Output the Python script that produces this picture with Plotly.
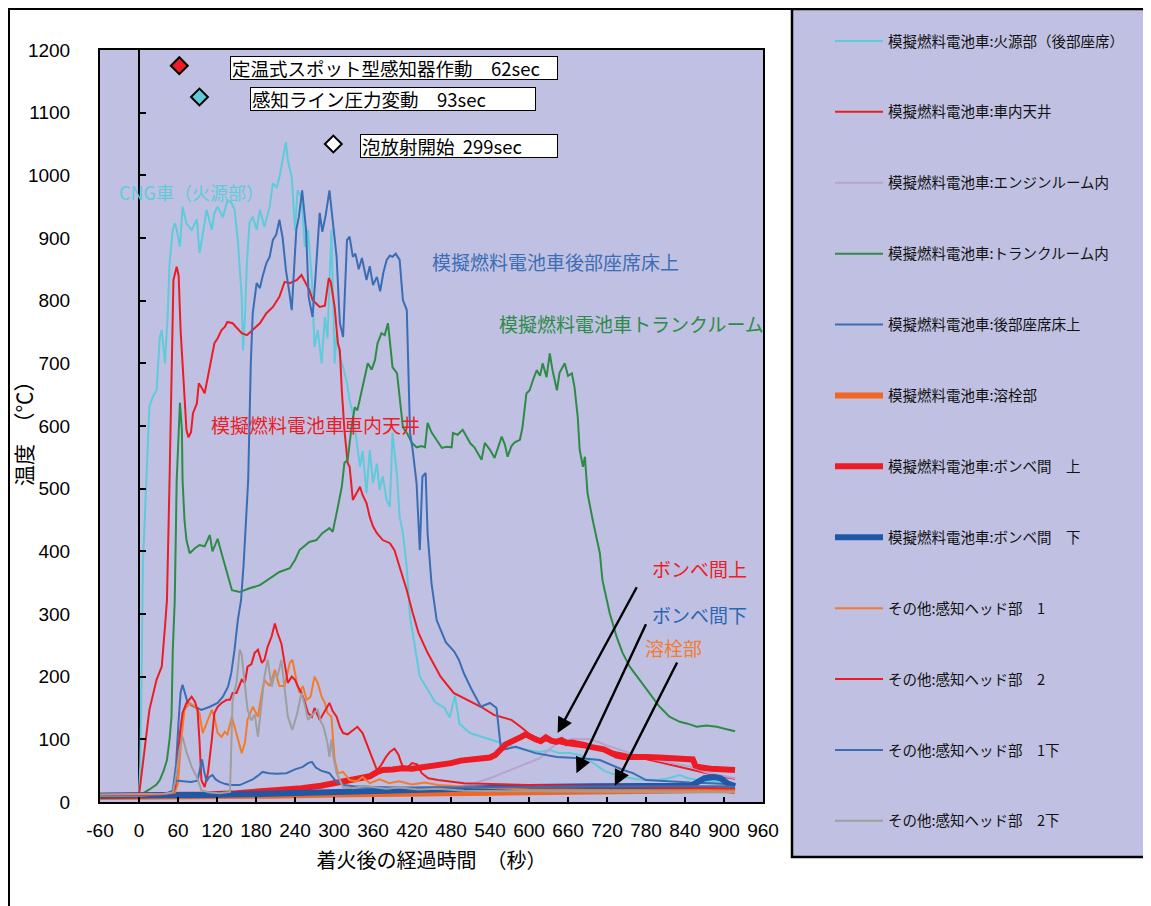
import plotly.graph_objects as go

# ---------------- data (time s, temperature degC) ----------------
FIRE = [(-60,12),(-40,12),(-20,13),(-5,13),(0,15),(2,60),(4,200),(6,380),(8,430),(11,514),(16,631),(21,646),(27,657),
        (32,742),(35,753),(40,700),(44,774),(47,860),(52,913),(55,924),(58,913),(63,886),(67,950),(73,923),(81,913),
        (89,930),(93,876),(98,905),(104,945),(112,913),(116,940),(121,950),(129,933),(136,960),(143,955),(147,945),
        (152,897),(158,806),(160,721),(163,774),(166,860),(170,924),(175,934),(181,913),(186,945),(193,918),(201,950),
        (206,987),(212,981),(216,997),(221,1024),(226,1053),(229,1024),(235,997),(240,913),(244,976),(250,965),
        (255,886),(260,913),(266,833),(270,726),(275,753),(281,700),(286,774),(290,740),(296,913),(301,700),(304,748),
        (309,710),(314,694),(320,668),(324,641),(329,620),(335,578),(340,535),(344,560),(350,493),(355,562),(360,509),
        (366,540),(370,498),(375,520),(381,482),(386,471),(390,589),(397,520),(401,455),(406,429),(412,375),(417,295),
        (424,250),(432,200),(444,180),(455,160),(470,150),(478,135),(486,170),(493,125),(509,110),(524,105),(540,100),
        (555,95),(570,90),(586,85),(601,82),(617,80),(632,83),(647,78),(662,78),(678,75),(695,65),(709,55),(715,50),
        (725,46),(745,40),(770,36),(800,35),(815,38),(832,43),(845,38),(870,33),(900,32),(917,30)]

CEILING = [(-60,12),(-30,12),(0,13),(1,19),(9,83),(16,147),(27,195),(35,216),(40,280),(43,322),(47,514),(50,700),
           (53,833),(58,854),(61,840),(64,753),(67,700),(70,646),(73,594),(76,582),(80,590),(83,620),(89,636),(92,668),
           (96,662),(101,652),(106,680),(112,710),(116,732),(121,740),(127,753),(132,758),(136,766),(144,764),(152,755),
           (158,748),(166,745),(175,753),(186,764),(196,780),(206,790),(216,806),(224,830),(232,828),(243,833),(250,841),
           (256,830),(262,817),(267,801),(278,790),(286,792),(292,836),(295,830),(301,790),(306,732),(309,721),(312,657),
           (316,594),(321,541),(324,535),(329,482),(335,493),(340,503),(344,490),(350,477),(355,455),(360,440),(366,429),
           (375,418),(386,413),(393,402),(401,375),(412,338),(421,302),(430,270),(444,238),(464,200),(484,174),(506,163),
           (526,152),(546,139),(573,131),(587,120),(601,108),(617,100),(640,95),(663,90),(693,86),(720,82),(745,77),
           (770,71),(800,64),(830,57),(860,50),(890,42),(917,37)]

ENGINE = [(-60,12),(0,12),(100,13),(200,15),(300,17),(400,19),(450,21),(480,23),(510,28),(540,38),(570,50),(600,62),
          (617,70),(632,85),(647,96),(668,101),(693,100),(709,95),(720,90),(750,80),(781,70),(821,62),(847,57),(873,47),
          (904,40),(917,38)]

TRUNK = [(-60,12),(0,12),(5,13),(16,20),(27,28),(32,35),(38,50),(43,67),(47,100),(50,136),(52,242),(55,322),(58,514),
         (63,637),(66,594),(67,514),(70,450),(73,418),(78,397),(86,405),(93,410),(101,408),(109,426),(113,400),(121,420),
         (127,397),(136,362),(143,338),(155,335),(170,341),(186,346),(201,357),(216,367),(232,373),(240,386),(247,402),
         (262,415),(273,418),(282,429),(293,437),(298,431),(304,461),(312,503),(316,541),(321,546),(327,598),(332,630),
         (336,625),(343,657),(347,678),(352,700),(358,690),(363,705),(367,732),(373,748),(378,745),(383,764),(386,735),
         (390,694),(397,684),(401,641),(406,598),(412,589),(420,573),(427,566),(435,568),(440,566),(444,605),(450,590),
         (458,578),(466,565),(473,567),(481,566),(483,589),(490,586),(498,594),(504,583),(510,572),(516,566),(527,546),
         (532,573),(540,562),(547,549),(552,565),(558,583),(563,570),(567,551),(573,568),(578,574),(586,578),(590,598),
         (596,652),(601,657),(606,673),(612,689),(617,680),(621,700),(627,678),(632,716),(636,690),(643,657),(647,685),
         (655,700),(660,680),(666,684),(670,662),(675,614),(678,562),(683,535),(686,551),(690,493),(698,450),(709,397),
         (713,354),(724,302),(735,263),(744,238),(755,216),(770,195),(786,174),(801,152),(816,136),(832,128),(844,125),
         (858,120),(873,122),(889,120),(901,117),(917,113)]

FLOOR = [(-60,12),(0,12),(40,13),(52,18),(57,60),(61,130),(64,175),(67,187),(70,175),(75,158),(85,152),(96,147),
         (109,152),(121,158),(129,168),(137,184),(142,206),(147,243),(152,290),(157,322),(161,380),(165,450),(168,514),
         (172,700),(175,780),(181,828),(186,820),(190,838),(196,860),(201,870),(206,897),(211,905),(216,929),(221,900),
         (226,849),(231,815),(235,785),(242,913),(246,934),(251,976),(257,913),(261,806),(267,774),(271,830),(278,940),
         (282,910),(287,935),(293,976),(297,935),(304,870),(309,764),(314,742),(320,897),(324,902),(329,870),(333,875),
         (338,850),(343,868),(350,833),(355,855),(360,825),(366,838),(371,815),(376,845),(381,865),(386,872),(390,870),
         (395,875),(401,865),(406,801),(412,785),(417,589),(421,562),(424,535),(427,509),(432,402),(436,519),(441,525),
         (444,429),(450,349),(458,290),(472,255),(485,240),(492,227),(500,205),(512,179),(526,152),(540,158),(550,150),
         (557,83),(570,86),(580,88),(610,78),(643,72),(680,70),(709,67),(745,51),(760,46),(780,35),(820,32),(848,31),
         (880,30),(917,28)]

PLUG = [(-60,8),(0,8),(100,9),(200,10),(300,12),(400,13),(500,15),(600,16),(700,17),(800,18),(860,20),(900,19),(917,17)]

TANK_UPPER = [(-60,10),(0,10),(50,11),(100,12),(150,14),(200,17),(250,22),(280,26),(300,30),(320,33),(340,37),(355,41),
              (365,47),(375,51),(390,52),(405,54),(420,53),(435,55),(450,56),(465,58),(480,62),(495,66),(510,67),(525,69),
              (540,71),(548,75),(556,84),(564,92),(572,96),(580,99),(588,104),(595,108),(602,103),(610,100),(618,97),
              (626,103),(634,98),(642,96),(650,99),(658,94),(666,95),(675,92),(685,91),(695,88),(705,86),(715,84),
              (725,79),(735,74),(745,72),(760,71),(780,72),(800,71),(820,70),(840,69),(852,68),(856,58),(865,55),
              (880,53),(895,52),(910,50),(917,51)]

TANK_LOWER = [(-60,10),(0,10),(100,11),(200,13),(300,16),(400,19),(500,21),(600,24),(700,25),(800,26),(850,26),(860,32),
              (870,38),(885,40),(895,38),(905,30),(917,25)]

HEAD1 = [(-60,10),(0,10),(30,12),(55,15),(60,30),(65,100),(70,147),(78,158),(86,152),(93,142),(98,110),(104,125),
         (112,147),(116,135),(121,110),(127,104),(132,112),(136,108),(143,136),(147,120),(152,99),(158,78),(163,95),
         (167,131),(175,152),(183,136),(189,174),(193,195),(201,185),(209,211),(216,185),(224,185),(232,222),(236,227),
         (243,190),(247,174),(252,185),(258,163),(264,168),(270,200),(275,190),(281,168),(286,158),(290,142),(296,136),
         (301,67),(306,46),(314,48),(324,35),(335,33),(344,40),(355,30),(370,36),(385,30),(400,33),(420,28),(440,31),
         (460,27),(480,26),(500,24),(550,22),(600,20),(700,19),(800,18),(900,17),(917,17)]

HEAD2 = [(-60,11),(0,11),(40,12),(52,14),(56,25),(63,110),(67,142),(73,158),(81,168),(86,160),(90,147),(93,99),(96,35),
         (101,24),(106,46),(112,99),(116,142),(121,152),(127,158),(135,163),(140,163),(144,174),(150,174),(158,195),
         (163,190),(167,216),(173,220),(178,238),(183,243),(189,222),(193,227),(198,248),(204,264),(209,285),(213,270),
         (219,253),(224,222),(229,190),(235,200),(240,195),(244,185),(250,174),(255,160),(260,142),(266,136),(270,150),
         (278,131),(286,145),(293,158),(298,145),(304,136),(309,120),(314,110),(321,108),(329,115),(336,120),(344,110),
         (352,88),(360,67),(366,51),(372,58),(380,72),(386,80),(393,85),(399,76),(405,58),(412,54),(420,62),(428,60),
         (435,46),(445,38),(460,35),(500,30),(550,28),(600,27),(700,25),(800,23),(900,22),(917,22)]

HEAD1_LOW = [(-60,12),(0,12),(45,13),(52,18),(55,32),(60,34),(70,33),(80,32),(90,34),(95,60),(97,68),(100,50),(104,33),
             (108,40),(113,43),(118,36),(124,32),(132,29),(140,27),(155,27),(165,31),(175,36),(183,42),(190,48),(200,46),
             (212,45),(227,46),(240,52),(252,56),(260,62),(266,64),(272,55),(280,50),(293,46),(299,38),(304,32),(315,27),
             (330,25),(360,24),(400,23),(500,23),(600,24),(700,24),(800,25),(900,25),(917,24)]

HEAD2_LOW = [(-60,12),(0,12),(40,13),(52,15),(56,35),(63,88),(67,104),(73,80),(81,56),(89,40),(96,19),(109,15),(124,14),
             (140,16),(144,163),(150,190),(155,243),(158,235),(163,190),(167,147),(173,130),(178,140),(183,104),(189,163),
             (193,200),(198,227),(204,184),(209,205),(213,200),(219,227),(224,180),(229,136),(236,115),(243,140),(250,174),
             (255,155),(260,131),(267,140),(275,147),(279,130),(284,120),(290,94),(293,72),(296,100),(299,72),(304,46),
             (314,24),(330,22),(345,26),(360,24),(380,21),(400,23),(430,20),(460,21),(500,18),(600,17),(700,16),(800,16),
             (900,16),(917,16)]

SERIES_NAMES = ["模擬燃料電池車:火源部（後部座席）", "模擬燃料電池車:車内天井", "模擬燃料電池車:エンジンルーム内",
                "模擬燃料電池車:トランクルーム内", "模擬燃料電池車:後部座席床上", "模擬燃料電池車:溶栓部",
                "模擬燃料電池車:ボンベ間　上", "模擬燃料電池車:ボンベ間　下", "その他:感知ヘッド部　1",
                "その他:感知ヘッド部　2", "その他:感知ヘッド部　1下", "その他:感知ヘッド部　2下"]
SERIES_DATA = [FIRE, CEILING, ENGINE, TRUNK, FLOOR, PLUG, TANK_UPPER, TANK_LOWER, HEAD1, HEAD2, HEAD1_LOW, HEAD2_LOW]
SERIES_COLORS = ["#5FCBDA", "#ED1C24", "#B9A2CF", "#2E8B47", "#3B6DB5", "#F26522",
                 "#ED1C24", "#1F58A6", "#F47B2B", "#ED1C24", "#3B6DB5", "#9E9E9E"]
SERIES_WIDTHS = [2, 2, 2, 2, 2, 6, 6, 6, 2, 2, 2, 2]

EVENT_TIMES = [62, 93, 299]
EVENT_LEVELS = [1175, 1125, 1050]
EVENT_COLORS = ["#ED1C24", "#5FCBDA", "#FFFFFF"]
EVENT_TEXTS = ["定温式スポット型感知器作動　62sec", "感知ライン圧力変動　93sec", "泡放射開始  299sec"]

X_TICKS = list(range(-60, 961, 60))
Y_TICKS = list(range(0, 1201, 100))

# ---------------- geometry (screen pixels; page body adds an 8 px offset) ----------------
OFF = 8
W, H = 1151 - OFF, 906 - OFF
PL, PR, PT, PB = 100, 763, 50, 802          # plot area on screen
def px(x):
    return (x - PL) / (PR - PL)
def py(y):
    return (PB - y) / (PB - PT)

BG = "#C0C1E2"
CJK = "Noto Sans CJK JP"
NUM = "Liberation Sans"

fig = go.Figure()

legend_rows = [41 + 70.9 * i for i in range(12)]
for i, (name, pts, col, wd) in enumerate(zip(SERIES_NAMES, SERIES_DATA, SERIES_COLORS, SERIES_WIDTHS)):
    lg = "legend" if i == 0 else f"legend{i+1}"
    fig.add_trace(go.Scatter(x=[p[0] for p in pts], y=[p[1] for p in pts], mode="lines", name=name,
                             line=dict(color=col, width=wd), legend=lg, hoverinfo="skip"))

fig.add_trace(go.Scatter(x=EVENT_TIMES, y=EVENT_LEVELS, mode="markers", showlegend=False, hoverinfo="skip",
                         marker=dict(symbol="diamond", size=13, color=EVENT_COLORS, line=dict(color="black", width=2))))
# carrier for the inner y axis drawn at x = 0
fig.add_trace(go.Scatter(x=[None], y=[None], yaxis="y2", showlegend=False, hoverinfo="skip"))

layout_legends = {}
for i, yy in enumerate(legend_rows):
    lg = "legend" if i == 0 else f"legend{i+1}"
    layout_legends[lg] = dict(x=px(830), y=py(yy), xanchor="left", yanchor="middle", bgcolor="rgba(0,0,0,0)",
                              borderwidth=0, itemwidth=48, font=dict(family=CJK, size=14.5, color="#111111"))

shapes = [
    dict(type="rect", xref="paper", yref="paper", x0=px(9), x1=px(1175), y0=py(920), y1=py(9),
         line=dict(color="black", width=2), fillcolor="rgba(0,0,0,0)", layer="below"),
    dict(type="rect", xref="paper", yref="paper", x0=px(792), x1=px(1175), y0=py(857), y1=py(9),
         line=dict(color="black", width=2.5), fillcolor=BG, layer="below"),
]

annotations = []
# event boxes
box_left = [230, 250, 360]
box_width = [324, 282, 194]
for t, lvl, txt, bl, bw in zip(EVENT_TIMES, EVENT_LEVELS, EVENT_TEXTS, box_left, box_width):
    annotations.append(dict(xref="paper", yref="y", x=px(bl), y=lvl - 3, xanchor="left", yanchor="middle",
                            text=txt, showarrow=False, align="left", width=bw, height=20, bgcolor="white",
                            bordercolor="black", borderwidth=1, borderpad=1,
                            font=dict(family=CJK, size=18.5, color="black")))
# series labels
labels = [("CNG車（火源部）", 80, 973, "#5FCBDA", 18),
          ("模擬燃料電池車後部座席床上", 641, 862, "#3B6DB5", 19),
          ("模擬燃料電池車トランクルーム", 758, 764, "#2E8B47", 19),
          ("模擬燃料電池車車内天井", 272, 603, "#ED1C24", 19),
          ("ボンベ間上", 863, 372, "#ED1C24", 19),
          ("ボンベ間下", 863, 300, "#2A66B5", 19),
          ("溶栓部", 822, 246, "#F47B2B", 19)]
for txt, xx, yy, col, fs in labels:
    annotations.append(dict(x=xx, y=yy, xref="x", yref="y", text=txt, showarrow=False,
                            font=dict(family=CJK, size=fs, color=col)))
# arrows
arrows = [((767, 345), (644, 110)), ((781, 286), (673, 46)), ((829, 225), (732, 26))]
for (tx, ty), (hx, hy) in arrows:
    annotations.append(dict(x=hx, y=hy, ax=tx, ay=ty, xref="x", yref="y", axref="x", ayref="y", text="",
                            showarrow=True, arrowhead=2, arrowsize=1.3, arrowwidth=2.4, arrowcolor="black"))
# y axis title (vertical)
annotations.append(dict(xref="paper", yref="paper", x=px(23), y=py(428), text="温度　（℃）", textangle=-90,
                        showarrow=False, xanchor="center", yanchor="middle",
                        font=dict(family=CJK, size=21, color="black")))

fig.update_layout(
    width=W, height=H, margin=dict(l=PL - OFF, r=W - (PR - OFF), t=PT - OFF, b=H - (PB - OFF), pad=0),
    paper_bgcolor="white", plot_bgcolor=BG, showlegend=True,
    xaxis=dict(range=[-60, 960], tickvals=X_TICKS, ticktext=[str(v) for v in X_TICKS], ticks="inside", ticklen=5,
               tickcolor="black", tickwidth=1.5, showline=True, linecolor="black", linewidth=2, mirror=True,
               showgrid=False, zeroline=True, zerolinecolor="black", zerolinewidth=1.5,
               tickfont=dict(family=NUM, size=19, color="black"), ticklabelstandoff=10,
               title=dict(text="着火後の経過時間　（秒）", font=dict(family=CJK, size=20, color="black"), standoff=14)),
    yaxis=dict(range=[0, 1200], tickvals=Y_TICKS, ticks="", showline=True, linecolor="black", linewidth=2,
               mirror=True, showgrid=False, zeroline=False, ticklabelstandoff=24,
               tickfont=dict(family=NUM, size=19, color="black")),
    yaxis2=dict(range=[0, 1200], tickvals=Y_TICKS, overlaying="y", anchor="free", position=60 / 1020, side="left",
                ticks="inside", ticklen=6, tickcolor="black", tickwidth=1.5, showticklabels=False, showline=False,
                showgrid=False, zeroline=False),
    shapes=shapes, annotations=annotations, **layout_legends,
)

fig.write_html("out.html")
